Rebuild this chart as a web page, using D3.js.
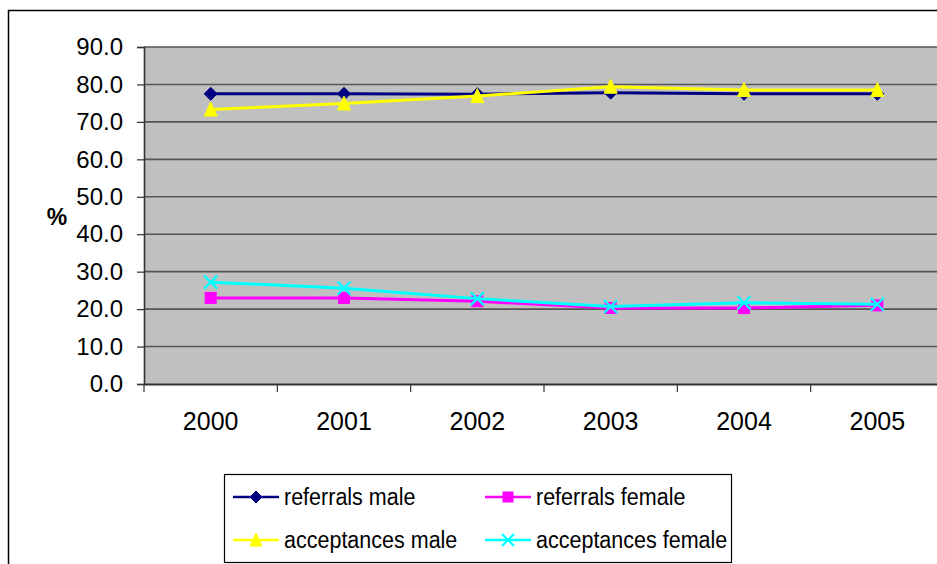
<!DOCTYPE html>
<html>
<head>
<meta charset="utf-8">
<script src="https://cdn.jsdelivr.net/npm/d3@7"></script>
<style>
  html, body { margin: 0; padding: 0; background: #fff; overflow: hidden; }
  svg { display: block; font-family: Arial, "Liberation Sans", sans-serif; }
</style>
</head>
<body>
<svg id="chart" width="937" height="564"></svg>
<script>
const years = ["2000", "2001", "2002", "2003", "2004", "2005"];
const referralsMale = [77.5, 77.5, 77.4, 77.8, 77.5, 77.5];
const referralsFemale = [23.0, 23.0, 22.1, 20.3, 20.3, 21.0];
const acceptancesMale = [73.3, 74.9, 76.9, 79.4, 78.5, 78.5];
const acceptancesFemale = [27.2, 25.6, 22.8, 20.7, 21.7, 21.3];
const yTicks = [0, 10, 20, 30, 40, 50, 60, 70, 80, 90];
const seriesNames = ["referrals male", "referrals female", "acceptances male", "acceptances female"];
const seriesColors = ["#000080", "#FF00FF", "#FFFF00", "#00FFFF"];
const seriesMarkers = ["diamond", "square", "triangle", "cross"];

const series = seriesNames.map((name, i) => ({
  name,
  color: seriesColors[i],
  marker: seriesMarkers[i],
  values: [referralsMale, referralsFemale, acceptancesMale, acceptancesFemale][i]
}));

const svg = d3.select("#chart");
const plot = { left: 144, top: 47, right: 944, bottom: 384 };

// outer chart border
svg.append("rect")
  .attr("x", 8.5).attr("y", 10.5)
  .attr("width", 1000).attr("height", 1000)
  .attr("fill", "#fff").attr("stroke", "#000").attr("stroke-width", 1.5);

const x = d3.scaleBand().domain(years).range([plot.left, plot.right]);
const y = d3.scaleLinear().domain([0, 90]).range([plot.bottom, plot.top]);

// plot background
svg.append("rect")
  .attr("x", plot.left).attr("y", plot.top)
  .attr("width", plot.right - plot.left).attr("height", plot.bottom - plot.top)
  .attr("fill", "#C0C0C0");

// gridlines
svg.append("g").selectAll("line")
  .data(yTicks.filter(d => d > 0))
  .join("line")
  .attr("x1", plot.left).attr("x2", plot.right)
  .attr("y1", d => y(d)).attr("y2", d => y(d))
  .attr("stroke", "#555").attr("stroke-width", 1.6);

// y axis
const yAxis = svg.append("g")
  .attr("transform", `translate(${plot.left},0)`)
  .call(d3.axisLeft(y).tickValues(yTicks).tickFormat(d3.format(".1f")).tickSize(7).tickPadding(14));
yAxis.select(".domain").attr("stroke", "#333").attr("stroke-width", 1.6);
yAxis.selectAll(".tick line").attr("stroke", "#333").attr("stroke-width", 1.2);
yAxis.selectAll(".tick text").attr("font-size", 24).attr("fill", "#000")
  .attr("font-family", "Arial, 'Liberation Sans', sans-serif");

// x axis
const xAxis = svg.append("g")
  .attr("transform", `translate(0,${plot.bottom})`)
  .call(d3.axisBottom(x).tickSize(0).tickPadding(28));
xAxis.select(".domain").attr("stroke", "#333").attr("stroke-width", 2);
xAxis.selectAll(".tick text").attr("font-size", 25).attr("fill", "#000")
  .attr("font-family", "Arial, 'Liberation Sans', sans-serif");
// category boundary ticks
svg.append("g").selectAll("line")
  .data(years)
  .join("line")
  .attr("x1", d => x(d)).attr("x2", d => x(d))
  .attr("y1", plot.bottom).attr("y2", plot.bottom + 8)
  .attr("stroke", "#333").attr("stroke-width", 1.2);

// y title
svg.append("text")
  .attr("x", 57).attr("y", 217)
  .attr("text-anchor", "middle").attr("dominant-baseline", "central")
  .attr("font-size", 23).attr("font-weight", "bold")
  .text("%");

function drawMarker(g, type, color, size) {
  const s = size / 2;
  if (type === "diamond") {
    g.append("path").attr("d", `M0,${-s}L${s},0L0,${s}L${-s},0Z`).attr("fill", color).attr("stroke", color);
  } else if (type === "square") {
    g.append("rect").attr("x", -s + 0.5).attr("y", -s + 0.5).attr("width", size - 1).attr("height", size - 1)
      .attr("fill", color).attr("stroke", color);
  } else if (type === "triangle") {
    g.append("path").attr("d", `M0,${-s - 1}L${s},${s}L${-s},${s}Z`).attr("fill", color).attr("stroke", color);
  } else if (type === "cross") {
    g.append("path").attr("d", `M${-s},${-s}L${s},${s}M${s},${-s}L${-s},${s}`)
      .attr("stroke", color).attr("stroke-width", 2.2).attr("fill", "none");
  }
}

const line = d3.line()
  .x((d, i) => x(years[i]) + x.bandwidth() / 2)
  .y(d => y(d));

series.forEach(s => {
  const g = svg.append("g");
  g.append("path")
    .attr("d", line(s.values))
    .attr("fill", "none")
    .attr("stroke", s.color)
    .attr("stroke-width", 3);
  s.values.forEach((v, i) => {
    const mg = g.append("g")
      .attr("transform", `translate(${x(years[i]) + x.bandwidth() / 2},${y(v)})`);
    drawMarker(mg, s.marker, s.color, s.marker === "square" ? 12 : 13);
  });
});

// legend
const legend = svg.append("g");
legend.append("rect")
  .attr("x", 224.5).attr("y", 474.5)
  .attr("width", 507).attr("height", 88)
  .attr("fill", "#fff").attr("stroke", "#000").attr("stroke-width", 1.2);
const legPos = [
  { lx: 233, ly: 497 }, { lx: 485, ly: 497 },
  { lx: 233, ly: 540 }, { lx: 485, ly: 540 }
];
series.forEach((s, i) => {
  const p = legPos[i];
  const g = legend.append("g");
  g.append("line")
    .attr("x1", p.lx).attr("x2", p.lx + 46)
    .attr("y1", p.ly).attr("y2", p.ly)
    .attr("stroke", s.color).attr("stroke-width", 2.5);
  const mg = g.append("g").attr("transform", `translate(${p.lx + 23},${p.ly})`);
  drawMarker(mg, s.marker, s.color, s.marker === "square" ? 11 : 12);
  const t = g.append("text")
    .attr("x", p.lx + 51).attr("y", p.ly)
    .attr("dominant-baseline", "central")
    .attr("font-size", 23)
    .text(s.name);
  const len = t.node().getComputedTextLength();
  t.attr("textLength", len * 0.935).attr("lengthAdjust", "spacingAndGlyphs");
});
</script>
</body>
</html>
